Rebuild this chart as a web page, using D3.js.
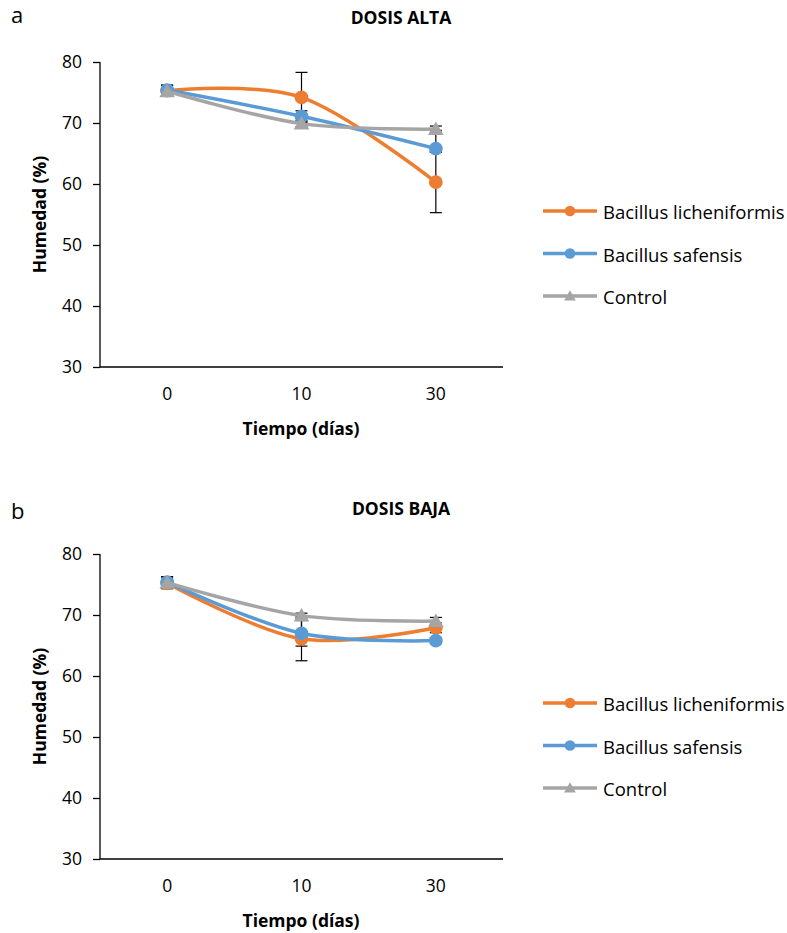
<!DOCTYPE html>
<html>
<head>
<meta charset="utf-8">
<script src="https://cdn.jsdelivr.net/npm/d3@7"></script>
<style>
  body { margin: 0; background: #fff; }
  svg text { font-family: "Open Sans", Lato, sans-serif; fill: #000; }
</style>
</head>
<body>
<svg id="chart" width="787" height="933"></svg>
<script>
// dias de muestreo
const days = ["0", "10", "30"];
const seriesNames = ["Bacillus licheniformis", "Bacillus safensis", "Control"];
const seriesColors = ["#ED7D31", "#5B9BD5", "#A5A5A5"];
const yTicks = [30, 40, 50, 60, 70, 80];

// dosis alta (panel a) - errores como [inferior, superior]
const altaLicheniformis = [75.3, 74.2, 60.3];
const altaSafensis = [75.4, 71.1, 65.8];
const altaControl = [75.2, 69.9, 69.0];
const altaErrLicheniformis = [[0.9, 0.9], [4.1, 4.1], [5.0, 5.0]];
const altaErrSafensis = [[0.8, 0.8], [0.9, 0.9], [0.6, 3.0]];
const altaErrControl = [[0.5, 0.5], [0.5, 0.5], [0.5, 0.5]];

// dosis baja (panel b)
const bajaLicheniformis = [75.2, 66.1, 67.9];
const bajaSafensis = [75.4, 67.0, 65.8];
const bajaControl = [75.3, 69.9, 69.0];
const bajaErrLicheniformis = [[0.9, 0.9], [3.6, 3.6], [0.8, 0.8]];
const bajaErrSafensis = [[0.9, 0.9], [2.1, 2.1], [0.5, 0.5]];
const bajaErrControl = [[0.5, 0.5], [0.4, 0.4], [0.6, 0.6]];

const panels = [
    { letter: "a", letterY: 23, title: "DOSIS ALTA", titleY: 24, top: 0,
      values: [altaLicheniformis, altaSafensis, altaControl],
      errors: [altaErrLicheniformis, altaErrSafensis, altaErrControl] },
    { letter: "b", letterY: 27, title: "DOSIS BAJA", titleY: 23, top: 492,
      values: [bajaLicheniformis, bajaSafensis, bajaControl],
      errors: [bajaErrLicheniformis, bajaErrSafensis, bajaErrControl] }
];

const plotLeft = 100, plotRight = 503;
const plotTop = 62, plotBottom = 367;

const svg = d3.select("#chart");

const x = d3.scaleBand().domain(days).range([plotLeft, plotRight]);
const y = d3.scaleLinear().domain([30, 80]).range([plotBottom, plotTop]);
const cx = d => x(d) + x.bandwidth() / 2;

const line = d3.line()
    .x((d, i) => cx(days[i]))
    .y(d => y(d))
    .curve(d3.curveCatmullRom.alpha(0));

const circleSym = d3.symbol().type(d3.symbolCircle).size(150);
const triSym = d3.symbol().type(d3.symbolTriangle).size(105);
const circleLeg = d3.symbol().type(d3.symbolCircle).size(90);
const triLeg = d3.symbol().type(d3.symbolTriangle).size(60);

panels.forEach(p => {
    const g = svg.append("g").attr("transform", `translate(0,${p.top})`);

    g.append("text")
        .attr("x", 11).attr("y", p.letterY)
        .style("font-size", "22px")
        .text(p.letter);

    g.append("text")
        .attr("x", 401).attr("y", p.titleY)
        .attr("text-anchor", "middle")
        .style("font-size", "17.5px")
        .style("font-weight", "bold")
        .text(p.title);

    // eje y
    const yAxis = g.append("g")
        .attr("transform", `translate(${plotLeft},0)`)
        .call(d3.axisLeft(y).tickValues(yTicks).tickSize(7).tickPadding(11));
    yAxis.selectAll("path, line").attr("stroke", "#000").attr("stroke-width", 1.3);
    yAxis.select(".domain").attr("d", `M0,${plotTop}V${plotBottom}`);
    yAxis.selectAll("text").style("font-size", "17.5px");

    // eje x
    const xAxis = g.append("g")
        .attr("transform", `translate(0,${plotBottom})`)
        .call(d3.axisBottom(x).tickSize(0).tickPadding(21));
    xAxis.select(".domain").attr("stroke", "#000").attr("stroke-width", 1.6)
        .attr("d", `M${plotLeft},0H${plotRight}`);
    xAxis.selectAll("text").style("font-size", "17.5px");

    g.append("text")
        .attr("x", 301).attr("y", 435)
        .attr("text-anchor", "middle")
        .style("font-size", "17.5px").style("font-weight", "bold")
        .text("Tiempo (días)");

    g.append("text")
        .attr("transform", `translate(46,${(plotTop + plotBottom) / 2}) rotate(-90)`)
        .attr("text-anchor", "middle")
        .style("font-size", "17.5px").style("font-weight", "bold")
        .text("Humedad (%)");

    // barras de error
    p.values.forEach((vals, s) => {
        vals.forEach((v, i) => {
            const px = cx(days[i]);
            const lo = y(v - p.errors[s][i][0]);
            const hi = y(v + p.errors[s][i][1]);
            const eb = g.append("g").attr("stroke", "#000").attr("stroke-width", 1.2);
            eb.append("line").attr("x1", px).attr("x2", px).attr("y1", lo).attr("y2", hi);
            eb.append("line").attr("x1", px - 6).attr("x2", px + 6).attr("y1", lo).attr("y2", lo);
            eb.append("line").attr("x1", px - 6).attr("x2", px + 6).attr("y1", hi).attr("y2", hi);
        });
    });

    // series
    p.values.forEach((vals, s) => {
        g.append("path")
            .datum(vals)
            .attr("fill", "none")
            .attr("stroke", seriesColors[s])
            .attr("stroke-width", 3.5)
            .attr("d", line);
        g.selectAll(null)
            .data(vals)
            .enter()
            .append("path")
            .attr("transform", (d, i) => `translate(${cx(days[i])},${y(d) + (s === 2 ? 1.5 : 0)})`)
            .attr("d", s === 2 ? triSym : circleSym)
            .attr("fill", seriesColors[s]);
    });

    // leyenda
    const leg = g.selectAll(".leg")
        .data(seriesNames)
        .enter()
        .append("g")
        .attr("transform", (d, i) => `translate(543,${211 + i * 42.5})`);
    leg.append("line")
        .attr("x1", 0).attr("x2", 54)
        .attr("stroke", (d, i) => seriesColors[i])
        .attr("stroke-width", 3.5);
    leg.append("path")
        .attr("transform", (d, i) => `translate(27,${i === 2 ? 1 : 0})`)
        .attr("d", (d, i) => i === 2 ? triLeg() : circleLeg())
        .attr("fill", (d, i) => seriesColors[i]);
    leg.append("text")
        .attr("x", 60).attr("y", 8)
        .style("font-size", "18.5px")
        .text(d => d);
});
</script>
</body>
</html>
